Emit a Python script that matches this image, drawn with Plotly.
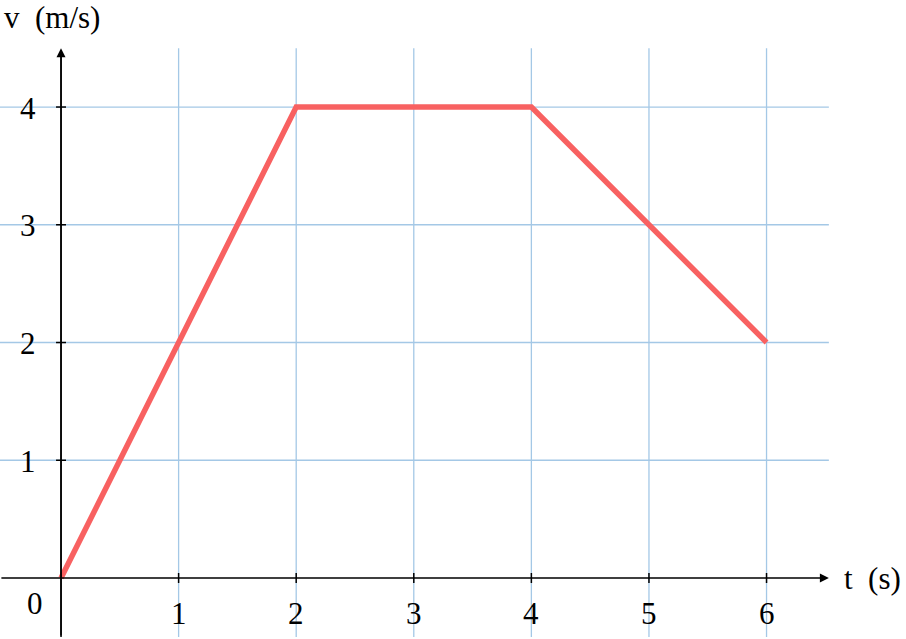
import plotly.graph_objects as go

t_vals = [0, 1, 2, 3, 4, 5, 6]
v_vals = [0, 2, 4, 4, 4, 3, 2]
x_ticks = [1, 2, 3, 4, 5, 6]
x_tick_labels = ["1", "2", "3", "4", "5", "6"]
y_ticks = [1, 2, 3, 4]
y_tick_labels = ["1", "2", "3", "4"]
x_title = "t\u2002(s)"
y_title = "v\u2002(m/s)"

FONT = "Liberation Serif"
FS = 31
GRID = "#a4c8e6"
RED = "#f86161"

xmin, xmax = -0.52, 6.53
ymin, ymax = -0.5, 4.5

fig = go.Figure()

shapes = []
for xv in x_ticks:
    shapes.append(dict(type="line", xref="x", yref="y", x0=xv, x1=xv, y0=ymin, y1=ymax,
                       line=dict(color=GRID, width=1.3), layer="below"))
for yv in y_ticks:
    shapes.append(dict(type="line", xref="x", yref="y", x0=xmin, x1=xmax, y0=yv, y1=yv,
                       line=dict(color=GRID, width=1.3), layer="below"))
# y axis line
shapes.append(dict(type="line", xref="x", yref="y", x0=0, x1=0, y0=ymin, y1=ymax - 0.02,
                   line=dict(color="black", width=1.5)))
# tick marks
for xv in x_ticks:
    shapes.append(dict(type="line", xref="x", yref="y", xsizemode="scaled", ysizemode="pixel",
                       yanchor=0, x0=xv, x1=xv, y0=-5, y1=5, line=dict(color="black", width=1.5)))
for yv in y_ticks:
    shapes.append(dict(type="line", xref="x", yref="y", xsizemode="pixel", ysizemode="scaled",
                       xanchor=0, x0=-5, x1=5, y0=yv, y1=yv, line=dict(color="black", width=1.5)))

fig.add_trace(go.Scatter(x=t_vals, y=v_vals, mode="lines",
                         line=dict(color=RED, width=5.5), hoverinfo="skip"))

annotations = []
# axis arrows
annotations.append(dict(x=xmax, y=0, ax=xmin, ay=0, xref="x", yref="y", axref="x", ayref="y",
                        showarrow=True, arrowhead=2, arrowsize=1.2, arrowwidth=1.5,
                        arrowcolor="black", text=""))
annotations.append(dict(x=0, y=ymax, ax=0, ay=ymin, xref="x", yref="y", axref="x", ayref="y",
                        showarrow=True, arrowhead=2, arrowsize=1.2, arrowwidth=1.5,
                        arrowcolor="black", text=""))
font = dict(family=FONT, size=FS, color="black")
for xv, lab in zip(x_ticks, x_tick_labels):
    annotations.append(dict(x=xv, y=-0.30, xref="x", yref="y", text=lab, showarrow=False,
                            font=font))
for yv, lab in zip(y_ticks, y_tick_labels):
    annotations.append(dict(x=-0.28, y=yv - 0.01, xref="x", yref="y", text=lab, showarrow=False,
                            font=font))
annotations.append(dict(x=-0.22, y=-0.22, xref="x", yref="y", text="0", showarrow=False,
                        font=font))
annotations.append(dict(x=6.64, y=0.0, xref="x", yref="y", text=x_title, showarrow=False,
                        xanchor="left", font=font))
annotations.append(dict(x=-0.505, y=4.76, xref="x", yref="y", text=y_title, showarrow=False,
                        xanchor="left", font=font))

fig.update_layout(
    width=906, height=639,
    margin=dict(l=0, r=0, t=0, b=0),
    paper_bgcolor="white", plot_bgcolor="white",
    showlegend=False,
    shapes=shapes, annotations=annotations,
    xaxis=dict(range=[-0.519, 7.186], visible=False, fixedrange=True),
    yaxis=dict(range=[-0.518, 4.909], visible=False, fixedrange=True),
)

fig.write_html("out.html", config={"displayModeBar": False},
               post_script="document.body.style.margin='0';")
